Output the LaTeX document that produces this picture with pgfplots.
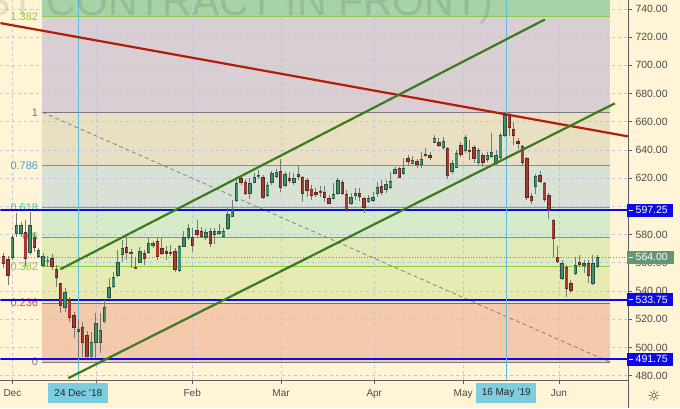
\documentclass[border=0pt]{standalone}
\usepackage{fontspec}
\setmainfont{Liberation Sans}
\newfontfamily\dejavu{DejaVu Sans}
\usepackage{pgfplots}
\usepackage{pgfplotstable}
\pgfplotsset{compat=1.18}

\definecolor{bgc}{RGB}{255,244,214}
\definecolor{fA}{RGB}{167,210,166}
\definecolor{fB}{RGB}{216,206,212}
\definecolor{fC}{RGB}{233,224,196}
\definecolor{fD}{RGB}{215,226,212}
\definecolor{fE}{RGB}{214,236,200}
\definecolor{fF}{RGB}{224,235,184}
\definecolor{fG}{RGB}{232,234,180}
\definecolor{fH}{RGB}{245,201,172}
\definecolor{l1382}{RGB}{140,205,70}
\definecolor{lgray}{RGB}{120,120,130}
\definecolor{l786}{RGB}{80,160,205}
\definecolor{l618}{RGB}{60,195,160}
\definecolor{l5}{RGB}{60,200,60}
\definecolor{l382}{RGB}{140,205,60}
\definecolor{l236}{RGB}{225,70,50}
\definecolor{axc}{RGB}{95,95,95}
\definecolor{lblc}{RGB}{75,75,75}
\definecolor{gridc}{RGB}{195,197,222}
\definecolor{upb}{RGB}{40,82,62}
\definecolor{upc}{RGB}{62,145,110}
\definecolor{dnb}{RGB}{95,38,32}
\definecolor{dnc}{RGB}{168,58,50}
\definecolor{wickc}{RGB}{110,122,118}
\definecolor{redl}{RGB}{178,28,8}
\definecolor{grnl}{RGB}{60,122,30}
\definecolor{vblue}{RGB}{95,190,220}
\definecolor{hblue}{RGB}{10,10,235}
\definecolor{lastc}{RGB}{100,150,115}
\definecolor{dateb}{RGB}{125,205,225}

\pgfplotstableread{
i o h l c
-2 564.7 566.8 556.2 559.7
-1 562.6 564.7 544.2 551.2
0 564.0 579.5 561.9 578.1
1 580.9 595.1 578.1 586.6
2 580.9 588.7 578.1 586.6
3 581.7 590.2 556.9 563.3
4 567.5 595.8 565.4 586.6
5 578.1 581.0 567.5 571.0
6 564.7 570.3 563.3 568.9
7 558.3 566.8 556.9 564.7
8 561.0 565.0 557.0 562.0
9 563.3 566.1 554.8 557.6
10 555.5 558.3 542.7 549.8
11 545.6 545.6 524.3 530.0
12 528.6 542.0 525.0 539.2
13 533.5 535.6 518.0 521.5
14 522.9 525.0 506.6 514.4
15 511.6 519.4 491.75 513.0
16 514.4 518.0 493.2 503.8
17 508.7 511.6 492.5 493.2
18 493.2 510.9 492.5 503.8
19 503.8 524.3 492.5 517.2
20 503.8 524.3 496.0 512.3
21 518.0 533.5 517.2 528.6
22 535.6 549.1 534.2 542.7
23 543.4 553.4 542.0 549.8
24 551.2 568.9 549.8 560.4
25 566.1 576.0 560.4 570.4
26 571.1 578.1 561.9 567.5
27 567.5 569.6 556.2 566.8
28 556.9 563.9 555.5 556.2
29 560.4 571.1 559.7 568.2
30 566.8 568.9 558.3 563.3
31 567.5 577.4 566.1 573.9
32 572.5 575.3 570.3 573.9
33 575.3 578.1 561.9 564.7
34 570.4 577.4 565.4 566.8
35 568.2 571.8 561.9 566.8
36 567.5 572.5 564.7 566.8
37 568.2 570.4 553.4 555.5
38 554.8 572.5 553.4 571.8
39 571.8 582.4 571.1 578.1
40 578.1 587.3 576.0 584.5
41 578.1 584.5 567.5 572.5
42 583.1 590.2 578.1 580.2
43 582.4 585.2 578.1 578.8
44 578.1 583.8 576.0 581.7
45 582.4 584.5 571.1 573.9
46 580.2 584.5 573.2 582.4
47 580.9 587.3 579.5 582.4
48 578.8 584.5 578.1 582.4
49 584.5 598.7 583.1 594.4
50 593.0 604.3 592.3 597.3
51 604.3 618.5 602.9 616.4
52 619.9 621.3 615.0 617.1
53 617.1 619.2 607.9 609.3
54 609.3 619.9 605.0 616.4
55 617.1 623.4 616.4 620.6
56 621.3 625.6 619.2 622.0
57 620.6 622.0 605.0 606.5
58 607.9 617.1 606.5 615.0
59 617.1 624.9 615.0 623.4
60 621.3 626.3 619.9 624.1
61 624.9 633.4 610.0 613.6
62 615.0 624.1 613.6 622.7
63 619.9 624.1 616.4 618.5
64 617.1 623.4 615.0 619.9
65 622.7 629.1 618.5 621.3
66 620.6 621.3 602.9 609.3
67 618.5 619.9 606.5 611.4
68 612.1 615.0 604.3 607.9
69 610.0 612.8 606.5 608.6
70 610.7 614.3 606.5 610.0
71 610.0 614.3 602.9 606.5
72 605.7 607.9 601.5 602.2
73 605.7 616.4 605.0 608.6
74 609.3 619.9 607.9 618.5
75 617.1 618.5 607.9 609.3
76 608.6 611.4 595.8 598.0
77 602.2 609.3 600.8 606.5
78 607.9 612.8 604.3 609.3
79 609.3 612.8 603.6 607.2
80 605.7 606.5 595.1 599.4
81 603.6 607.9 602.2 605.7
82 604.3 610.0 602.9 606.5
83 609.3 617.1 606.5 613.6
84 614.3 618.5 607.9 610.0
85 612.1 618.5 609.3 615.7
86 613.6 624.1 612.1 617.8
87 623.4 627.7 622.7 626.3
88 627.0 627.7 619.9 620.6
89 623.4 634.1 622.0 627.0
90 634.1 636.2 628.4 631.9
91 630.5 635.5 629.8 632.6
92 631.9 633.3 627.0 629.8
93 629.8 638.3 627.0 633.3
94 636.9 641.1 634.8 636.2
95 636.2 638.3 632.6 634.8
96 645.4 650.3 644.7 648.2
97 645.4 648.2 641.9 643.3
98 641.9 648.9 639.7 646.1
99 641.1 641.9 619.2 622.0
100 624.9 632.6 622.7 630.5
101 627.7 639.7 627.0 637.6
102 643.3 645.4 634.8 636.9
103 639.7 650.3 637.6 648.9
104 639.7 646.8 632.6 639.0
105 641.9 643.3 630.5 634.1
106 631.2 641.1 629.1 639.7
107 636.2 637.6 627.7 631.2
108 633.3 638.3 631.2 636.2
109 635.5 651.7 634.1 638.3
110 630.5 639.7 629.1 636.2
111 634.8 651.7 632.6 650.3
112 650.3 665.9 648.9 664.5
113 664.5 666.7 649.6 656.0
114 654.6 659.5 643.3 650.3
115 646.1 648.2 640.4 644.7
116 642.6 643.3 628.4 631.2
117 634.1 634.8 604.3 606.5
118 607.2 609.3 601.5 604.3
119 614.3 622.7 608.6 621.3
120 622.0 624.8 616.4 617.8
121 616.4 617.1 602.9 605.0
122 607.9 609.3 590.9 598.0
123 590.2 590.9 564.0 577.4
124 564.0 571.8 559.7 561.1
125 549.1 561.9 547.7 559.7
126 556.9 558.3 535.6 542.0
127 545.6 547.7 538.5 540.6
128 552.6 564.0 551.2 558.3
129 560.4 565.4 556.9 559.0
130 558.3 561.9 552.6 559.7
131 559.7 561.9 545.6 551.2
132 545.6 565.4 544.2 559.7
133 557.6 565.4 556.2 564.0
}\ohlc

\pgfplotsset{
  candlebody/.style n args={3}{draw=none, mark=none, forget plot,
    restrict expr to domain={\thisrow{c}-\thisrow{o}}{#1},
    error bars/.cd, y dir=both, y explicit, error mark=none,
    error bar style={draw=#2, line width=#3, solid}},
}

\begin{document}
\begin{tikzpicture}[x=1pt,y=1pt]
\fill[bgc] (0,-28) rectangle (680,380);
\begin{axis}[
  at={(0pt,0pt)}, anchor=south west,
  scale only axis, width=628pt, height=380pt,
  xmin=-2.727, xmax=140, ymin=476.8, ymax=746,
  axis x line*=bottom, axis y line*=right,
  axis line style={draw=axc, line width=0.8pt},
  xtick={0,19.1,40.9,61.1,82.3,102.5,124.3},
  xticklabels={Dec,,Feb,Mar,Apr,May,Jun},
  ytick={480,500,...,740},
  yticklabels={480.00,500.00,520.00,540.00,560.00,580.00,,620.00,640.00,660.00,680.00,700.00,720.00,740.00},
  tick align=outside,
  major tick length=4pt,
  tick style={draw=axc, line width=0.6pt},
  ticklabel style={font=\fontsize{10}{12}\selectfont, text=lblc},
  yticklabel style={font=\fontsize{10.5}{12}\selectfont},
  xticklabel style={yshift=-2pt},
  clip=true,
]
% Fibonacci zones
\addplot[fill=fA, draw=none] coordinates {(6.82,734.35) (135.9,734.35) (135.9,746) (6.82,746)} --cycle;
\addplot[fill=fB, draw=none] coordinates {(6.82,666.7) (135.9,666.7) (135.9,734.35) (6.82,734.35)} --cycle;
\addplot[fill=fC, draw=none] coordinates {(6.82,628.8) (135.9,628.8) (135.9,666.7) (6.82,666.7)} --cycle;
\addplot[fill=fD, draw=none] coordinates {(6.82,599.05) (135.9,599.05) (135.9,628.8) (6.82,628.8)} --cycle;
\addplot[fill=fE, draw=none] coordinates {(6.82,578.15) (135.9,578.15) (135.9,599.05) (6.82,599.05)} --cycle;
\addplot[fill=fF, draw=none] coordinates {(6.82,557.25) (135.9,557.25) (135.9,578.15) (6.82,578.15)} --cycle;
\addplot[fill=fG, draw=none] coordinates {(6.82,531.4) (135.9,531.4) (135.9,557.25) (6.82,557.25)} --cycle;
\addplot[fill=fH, draw=none] coordinates {(6.82,489.6) (135.9,489.6) (135.9,531.4) (6.82,531.4)} --cycle;
% grid
\pgfplotsinvokeforeach{480,500,...,740}{
  \addplot[gridc, line width=0.6pt, dash pattern=on 3pt off 3pt] coordinates {(-2.727,#1) (140,#1)};
}
\pgfplotsinvokeforeach{0,19.1,40.9,61.1,82.3,102.5,124.3}{
  \addplot[gridc, line width=0.6pt, dash pattern=on 3pt off 3pt] coordinates {(#1,476.8) (#1,746)};
}
% Fibonacci lines
\addplot[l1382, line width=1.2pt] coordinates {(6.82,734.35) (135.9,734.35)};
\addplot[lgray, line width=1pt] coordinates {(6.82,666.7) (135.9,666.7)};
\addplot[l786, line width=0.9pt] coordinates {(6.82,628.8) (135.9,628.8)};
\addplot[l618, line width=0.9pt] coordinates {(6.82,599.05) (135.9,599.05)};
\addplot[l5, line width=0.9pt] coordinates {(6.82,578.15) (135.9,578.15)};
\addplot[l382, line width=0.9pt] coordinates {(6.82,557.25) (135.9,557.25)};
\addplot[l236, line width=0.9pt] coordinates {(6.82,531.4) (135.9,531.4)};
\addplot[lgray, line width=1pt] coordinates {(6.82,489.6) (135.9,489.6)};
% fib diagonal
\addplot[gray, line width=0.8pt, dash pattern=on 4pt off 3pt] coordinates {(6.82,666.7) (135.9,489.6)};
% fib labels
\begin{scope}[every node/.style={anchor=east, inner sep=1pt, font=\fontsize{11}{12}\selectfont}]
\node[text=l1382] at (axis cs:6.1,734.35) {1.382};
\node[text=lgray] at (axis cs:6.1,666.7) {1};
\node[text=l786] at (axis cs:6.1,628.8) {0.786};
\node[text=l618] at (axis cs:6.1,599.05) {0.618};
\node[text=l5] at (axis cs:6.1,578.15) {0.5};
\node[text=l382] at (axis cs:6.1,557.25) {0.382};
\node[text=l236] at (axis cs:6.1,531.4) {0.236};
\node[text=lgray] at (axis cs:6.1,489.6) {0};
\end{scope}
% horizontal levels
\addplot[hblue, line width=2pt] coordinates {(-2.727,597.25) (140,597.25)};
\addplot[hblue, line width=2pt] coordinates {(-2.727,533.75) (140,533.75)};
\addplot[hblue, line width=2pt] coordinates {(-2.727,491.75) (140,491.75)};
\addplot[lastc, line width=0.8pt, dotted] coordinates {(-2.727,564) (140,564)};
% vertical date lines
\addplot[vblue, line width=0.8pt] coordinates {(15,476.8) (15,746)};
\addplot[vblue, line width=0.8pt] coordinates {(112.3,476.8) (112.3,746)};
% candles: wicks
\addplot[draw=none, mark=none, forget plot,
  error bars/.cd, y dir=both, y explicit, error mark=none,
  error bar style={draw=wickc, line width=0.9pt, solid}]
  table[x=i, y expr={(\thisrow{h}+\thisrow{l})/2}, y error expr={(\thisrow{h}-\thisrow{l})/2}] {\ohlc};
% candles: up bodies (outline, then fill)
\addplot[candlebody={0:1000}{upb}{3.4pt}]
  table[x=i, y expr={(\thisrow{o}+\thisrow{c})/2}, y error expr={max(abs(\thisrow{c}-\thisrow{o})/2,0.45)+0.3}] {\ohlc};
\addplot[candlebody={0:1000}{upc}{2.2pt}]
  table[x=i, y expr={(\thisrow{o}+\thisrow{c})/2}, y error expr={max(abs(\thisrow{c}-\thisrow{o})/2-0.3,0.1)}] {\ohlc};
% candles: down bodies (outline, then fill)
\addplot[candlebody={-1000:-0.01}{dnb}{3.4pt}]
  table[x=i, y expr={(\thisrow{o}+\thisrow{c})/2}, y error expr={max(abs(\thisrow{c}-\thisrow{o})/2,0.45)+0.3}] {\ohlc};
\addplot[candlebody={-1000:-0.01}{dnc}{2.2pt}]
  table[x=i, y expr={(\thisrow{o}+\thisrow{c})/2}, y error expr={max(abs(\thisrow{c}-\thisrow{o})/2-0.3,0.1)}] {\ohlc};
% trend lines
\addplot[redl, line width=2.2pt] coordinates {(-2.727,729.9) (140,649.6)};
\addplot[grnl, line width=2.2pt] coordinates {(10.9,555.4) (121.1,732.5)};
\addplot[grnl, line width=2.2pt] coordinates {(12.7,478.2) (137.0,673.0)};
% anchor coordinates
\coordinate (p1) at (axis cs:140,597.25);
\coordinate (p2) at (axis cs:140,564);
\coordinate (p3) at (axis cs:140,533.75);
\coordinate (p4) at (axis cs:140,491.75);
\coordinate (d1) at (axis cs:15,476.8);
\coordinate (d2) at (axis cs:112.3,476.8);
\end{axis}
% watermark
\begin{scope}
\clip[overlay] (0,0) rectangle (628,380);
\node[overlay, anchor=base east, inner sep=0pt, font=\fontsize{41}{41}\selectfont, text=black, text opacity=0.1] at (493,365) {(1ST CONTRACT IN FRONT)};
\end{scope}
% price boxes
\begin{scope}[every node/.style={anchor=west, inner sep=0pt, minimum height=13pt, text=white, font=\fontsize{10.5}{12}\selectfont}]
\node[fill=hblue] at ([xshift=-1pt]p1) {\hspace*{1.5pt}\rule[3.4pt]{4pt}{0.7pt}\hspace*{3pt}597.25\hspace*{5pt}};
\node[fill=lastc] at ([xshift=-1pt]p2) {\hspace*{1.5pt}\rule[3.4pt]{4pt}{0.7pt}\hspace*{3pt}564.00\hspace*{6pt}};
\node[fill=hblue] at ([xshift=-1pt]p3) {\hspace*{1.5pt}\rule[3.4pt]{4pt}{0.7pt}\hspace*{3pt}533.75\hspace*{5pt}};
\node[fill=hblue] at ([xshift=-1pt]p4) {\hspace*{1.5pt}\rule[3.4pt]{4pt}{0.7pt}\hspace*{3pt}491.75\hspace*{5pt}};
\end{scope}
% date boxes
\begin{scope}[every node/.style={anchor=north, fill=dateb, minimum width=60pt, minimum height=20pt, inner sep=0pt, text=black!85, font=\fontsize{10}{12}\selectfont}]
\node at ([yshift=-3pt]d1) {24 Dec '18};
\node at ([yshift=-3pt]d2) {16 May '19};
\end{scope}
% right-bottom corner
\draw[axc, line width=0.8pt] (628,0) -- (628,-28);
\node[font=\dejavu\fontsize{15}{15}\selectfont, text=black!75] at (654,-16) {☼};
\end{tikzpicture}
\end{document}
